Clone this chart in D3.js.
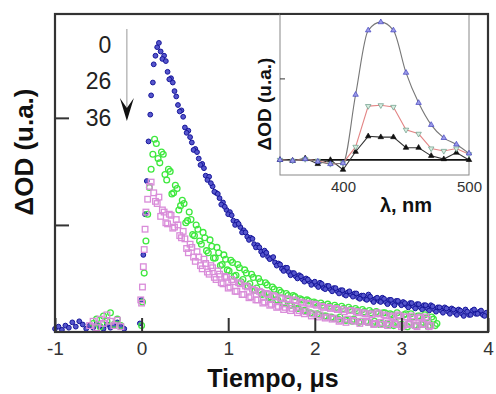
<!DOCTYPE html>
<html>
<head>
<meta charset="utf-8">
<script src="https://cdn.jsdelivr.net/npm/d3@7"></script>
<style>
  body { margin: 0; background: #fff; }
  svg { display: block; font-family: "Liberation Sans", Arial, sans-serif; }
</style>
</head>
<body>
<div class="canvas"></div>
<script>
// ---- kinetic traces: ΔOD vs time (μs) ----
// each trace = flat part before the pulse, the rise, and two interleaved decay scans
const sampleStep = 0.04;

const blueBaseStart = -1.0;
const blueBase = [0.03, 0.05, 0.02, 0.06, 0.04, 0.09, 0.05, 0.10, 0.07, 0.03, 0.06,
                  0.04, 0.08, 0.05, 0.03, 0.07, 0.04, 0.06, 0.09, 0.05, 0.03];
const blueRiseT = [-0.02, 0.00, 0.02, 0.04, 0.06, 0.08, 0.10, 0.11, 0.13, 0.14, 0.16, 0.18, 0.20];
const blueRiseV = [0.08, 0.30, 0.72, 1.10, 1.41, 1.78, 2.03, 2.21, 2.33, 2.50, 2.58, 2.66, 2.70];
const blueDecayStart = 0.22;
const blueDecay = [2.62, 2.58, 2.43, 2.37, 2.25, 2.12, 2.07, 1.91, 1.88, 1.77,
                   1.71, 1.62, 1.57, 1.46, 1.45, 1.36, 1.30, 1.25, 1.21, 1.14,
                   1.12, 1.04, 1.03, 0.98, 0.95, 0.89, 0.88, 0.82, 0.81, 0.75,
                   0.76, 0.70, 0.69, 0.65, 0.64, 0.59, 0.60, 0.56, 0.55, 0.52,
                   0.53, 0.49, 0.50, 0.47, 0.46, 0.44, 0.46, 0.41, 0.43, 0.40,
                   0.41, 0.38, 0.39, 0.35, 0.37, 0.35, 0.36, 0.32, 0.34, 0.31,
                   0.35, 0.30, 0.31, 0.29, 0.32, 0.28, 0.30, 0.27, 0.29, 0.27,
                   0.28, 0.25, 0.27, 0.24, 0.26, 0.23, 0.25, 0.22, 0.25, 0.21,
                   0.23, 0.20, 0.23, 0.19, 0.22, 0.18, 0.21, 0.17, 0.21, 0.16,
                   0.20, 0.17, 0.19, 0.16, 0.18];
const blueDecay2Start = 0.24;
const blueDecay2 = [2.55, 2.53, 2.36, 2.33, 2.20, 2.06, 2.01, 1.86, 1.82, 1.70,
                    1.68, 1.56, 1.53, 1.42, 1.39, 1.31, 1.29, 1.19, 1.17, 1.10,
                    1.09, 1.00, 1.01, 0.93, 0.93, 0.86, 0.87, 0.79, 0.79, 0.72,
                    0.74, 0.68, 0.70, 0.62, 0.63, 0.57, 0.60, 0.53, 0.55, 0.50,
                    0.52, 0.47, 0.49, 0.44, 0.47, 0.42, 0.45, 0.40, 0.43, 0.38,
                    0.41, 0.36, 0.39, 0.34, 0.38, 0.33, 0.36, 0.31, 0.34, 0.30,
                    0.33, 0.28, 0.32, 0.28, 0.31, 0.26, 0.30, 0.25, 0.29, 0.25,
                    0.27, 0.23, 0.27, 0.22, 0.26, 0.21, 0.25, 0.20, 0.24, 0.19,
                    0.23, 0.18, 0.22, 0.17, 0.21, 0.16, 0.20, 0.15, 0.19, 0.16,
                    0.21, 0.17, 0.20, 0.15];

const greenBaseStart = -0.56;
const greenBase = [0.08, 0.12, 0.05, 0.15, 0.10, 0.18, 0.07, 0.12, 0.06];
const greenRiseT = [0.00, 0.01, 0.03, 0.05, 0.07, 0.09, 0.11, 0.13, 0.15];
const greenRiseV = [0.06, 0.28, 0.55, 0.85, 1.10, 1.35, 1.52, 1.66, 1.80];
const greenDecayStart = 0.17;
const greenDecay = [1.76, 1.58, 1.66, 1.42, 1.50, 1.30, 1.34, 1.18, 1.20, 1.04,
                    1.05, 0.90, 0.96, 0.82, 0.88, 0.74, 0.80, 0.69, 0.74, 0.63,
                    0.68, 0.57, 0.65, 0.53, 0.60, 0.49, 0.55, 0.45, 0.51, 0.41,
                    0.47, 0.36, 0.44, 0.33, 0.40, 0.30, 0.37, 0.27, 0.34, 0.25,
                    0.33, 0.22, 0.30, 0.20, 0.29, 0.17, 0.27, 0.16, 0.25, 0.15,
                    0.24, 0.13, 0.23, 0.14, 0.22, 0.11, 0.21, 0.12, 0.20, 0.10,
                    0.19, 0.09, 0.18, 0.10, 0.17, 0.08, 0.18, 0.07, 0.16, 0.09,
                    0.15, 0.07, 0.17, 0.08, 0.14, 0.06, 0.15, 0.09, 0.13, 0.06,
                    0.12, 0.08];
const greenDecay2Start = 0.19;
const greenDecay2 = [1.62, 1.68, 1.47, 1.52, 1.29, 1.37, 1.14, 1.23, 1.02, 1.12,
                     0.91, 1.00, 0.85, 0.93, 0.76, 0.86, 0.69, 0.79, 0.62, 0.72,
                     0.58, 0.67, 0.52, 0.63, 0.47, 0.58, 0.43, 0.54, 0.39, 0.50,
                     0.35, 0.46, 0.32, 0.42, 0.30, 0.39, 0.27, 0.36, 0.25, 0.34,
                     0.22, 0.31, 0.20, 0.30, 0.18, 0.28, 0.17, 0.27, 0.15, 0.26,
                     0.14, 0.25, 0.12, 0.24, 0.11, 0.23, 0.10, 0.22, 0.09, 0.21,
                     0.10, 0.20, 0.08, 0.19, 0.07, 0.18, 0.08, 0.17, 0.06, 0.18,
                     0.07, 0.16, 0.05, 0.17, 0.06, 0.15, 0.07, 0.16, 0.05, 0.14,
                     0.06];

const pinkBaseStart = -0.60;
const pinkBase = [0.06, 0.10, 0.04, 0.12, 0.08, 0.16, 0.10, 0.06, 0.11, 0.05];
const pinkRiseT = [-0.01, 0.00, 0.01, 0.02, 0.03, 0.04, 0.05, 0.07, 0.09, 0.11];
const pinkRiseV = [0.30, 0.27, 0.42, 0.61, 0.77, 0.96, 1.12, 1.24, 1.36, 1.40];
const pinkDecayStart = 0.14;
const pinkDecay = [1.30, 1.20, 1.08, 1.12, 1.01, 1.09, 0.98, 1.00, 0.88, 0.87,
                   0.74, 0.79, 0.66, 0.70, 0.59, 0.64, 0.54, 0.60, 0.49, 0.54,
                   0.45, 0.51, 0.42, 0.47, 0.38, 0.45, 0.35, 0.42, 0.33, 0.39,
                   0.30, 0.37, 0.28, 0.35, 0.26, 0.33, 0.24, 0.31, 0.23, 0.30,
                   0.22, 0.29, 0.20, 0.27, 0.19, 0.26, 0.17, 0.25, 0.16, 0.23,
                   0.14, 0.22, 0.13, 0.21, 0.11, 0.19, 0.12, 0.20, 0.10, 0.18,
                   0.10, 0.17, 0.09, 0.16, 0.08, 0.17, 0.07, 0.15, 0.08, 0.14,
                   0.07, 0.15, 0.06, 0.14, 0.08, 0.13, 0.05, 0.14, 0.07, 0.12,
                   0.06];
const pinkDecay2Start = 0.16;
const pinkDecay2 = [1.22, 1.26, 1.14, 1.02, 1.10, 0.97, 1.05, 0.90, 0.94, 0.78,
                    0.82, 0.70, 0.75, 0.62, 0.68, 0.56, 0.62, 0.51, 0.57, 0.46,
                    0.52, 0.41, 0.49, 0.38, 0.46, 0.35, 0.43, 0.32, 0.40, 0.30,
                    0.38, 0.27, 0.36, 0.25, 0.34, 0.23, 0.32, 0.21, 0.31, 0.20,
                    0.30, 0.18, 0.28, 0.17, 0.27, 0.15, 0.26, 0.14, 0.24, 0.13,
                    0.23, 0.12, 0.22, 0.10, 0.21, 0.09, 0.20, 0.11, 0.19, 0.08,
                    0.18, 0.10, 0.17, 0.07, 0.18, 0.09, 0.16, 0.06, 0.15, 0.08,
                    0.16, 0.05, 0.14, 0.07, 0.15, 0.06, 0.13, 0.08, 0.14, 0.05];

const doseLabels = ["0", "26", "36"];
const xTicks = [-1, 0, 1, 2, 3, 4];
const yTicks = [1, 2];

// ---- inset: transient spectra, ΔOD vs λ (nm) ----
const insetWl = [350, 360, 370, 380, 390, 400, 410, 420, 430, 440, 450, 460, 470, 480, 490, 500];
const spec0  = [0.00, -0.01, 0.01, -0.02, -0.05, -0.04, 0.80, 1.59, 1.69, 1.59, 1.07, 0.70, 0.43, 0.27, 0.19, 0.08];
const spec26 = [0.00, -0.01, 0.01, -0.01, -0.05, -0.04, 0.16, 0.66, 0.67, 0.65, 0.37, 0.32, 0.14, 0.11, 0.14, 0.07];
const spec36 = [0.00, -0.01, 0.02, -0.05, 0.00, -0.12, 0.10, 0.29, 0.28, 0.28, 0.15, 0.15, 0.05, 0.01, 0.09, 0.00];
const insetXTicks = [400, 500];
const insetYTicks = [1];

const grid = (t0, vals) => vals.map((v, i) => ({t: t0 + i * sampleStep, v: v}));
const pairs = (ts, vs) => ts.map((t, i) => ({t: t, v: vs[i]}));

const blue = grid(blueBaseStart, blueBase).concat(pairs(blueRiseT, blueRiseV),
  grid(blueDecayStart, blueDecay), grid(blueDecay2Start, blueDecay2));
const green = grid(greenBaseStart, greenBase).concat(pairs(greenRiseT, greenRiseV),
  grid(greenDecayStart, greenDecay), grid(greenDecay2Start, greenDecay2));
const pink = grid(pinkBaseStart, pinkBase).concat(pairs(pinkRiseT, pinkRiseV),
  grid(pinkDecayStart, pinkDecay), grid(pinkDecay2Start, pinkDecay2));

const W = 496, H = 394;
const svg = d3.select('.canvas')
  .append('svg')
    .attr('width', W)
    .attr('height', H)
    .style('background-color', 'white');

const x = d3.scaleLinear().domain([-1, 4]).range([55, 488]);
const y = d3.scaleLinear().domain([0, 2.97]).range([332, 14]);

// blue: filled circles
svg.append('g').selectAll('circle')
  .data(blue)
  .enter()
  .append('circle')
    .attr('cx', d => x(d.t))
    .attr('cy', d => y(d.v))
    .attr('r', 2.4)
    .attr('fill', '#5656cc')
    .attr('stroke', '#15159a')
    .attr('stroke-width', 1);

// green: open circles
svg.append('g').selectAll('circle')
  .data(green)
  .enter()
  .append('circle')
    .attr('cx', d => x(d.t))
    .attr('cy', d => y(d.v))
    .attr('r', 2.9)
    .attr('fill', 'none')
    .attr('stroke', '#3ee83e')
    .attr('stroke-width', 1.3);

// pink: open squares
svg.append('g').selectAll('rect')
  .data(pink)
  .enter()
  .append('rect')
    .attr('x', d => x(d.t) - 2.8)
    .attr('y', d => y(d.v) - 2.8)
    .attr('width', 5.6)
    .attr('height', 5.6)
    .attr('fill', 'none')
    .attr('stroke', '#d98cd9')
    .attr('stroke-width', 1.3);

// axes with inward ticks
const xAxis = svg.append('g')
  .attr('transform', `translate(0,${y(0)})`)
  .call(d3.axisBottom(x).tickValues(xTicks).tickSizeInner(-14).tickSizeOuter(0).tickPadding(10)
    .tickFormat(d3.format('d')));
xAxis.select('.domain').remove();
xAxis.selectAll('line').attr('stroke', '#333').attr('stroke-width', 2);
xAxis.selectAll('text')
  .style('font-family', '"Liberation Sans", Arial, sans-serif')
  .style('font-size', '19px')
  .attr('fill', '#333')
  .text(d => d < 0 ? '-' + Math.abs(d) : d);

const yAxis = svg.append('g')
  .attr('transform', `translate(${x(-1)},0)`)
  .call(d3.axisLeft(y).tickValues(yTicks).tickSizeInner(-14).tickSizeOuter(0).tickFormat(''));
yAxis.select('.domain').remove();
yAxis.selectAll('line').attr('stroke', '#333').attr('stroke-width', 2);

// frame
svg.append('rect')
  .attr('x', x(-1))
  .attr('y', y(2.97))
  .attr('width', x(4) - x(-1))
  .attr('height', y(0) - y(2.97))
  .attr('fill', 'none')
  .attr('stroke', '#333')
  .attr('stroke-width', 2.2);

// axis titles
svg.append('text')
  .attr('text-anchor', 'middle')
  .attr('x', 273)
  .attr('y', 387)
  .style('font-weight', 'bold')
  .style('font-size', '25px')
  .attr('fill', '#111')
  .text('Tiempo, μs');

svg.append('text')
  .attr('text-anchor', 'middle')
  .attr('transform', 'translate(33,152) rotate(-90)')
  .style('font-weight', 'bold')
  .style('font-size', '26px')
  .attr('fill', '#111')
  .text('ΔOD (u.a.)');

// dose labels + arrow
svg.append('g').selectAll('text')
  .data(doseLabels)
  .enter()
  .append('text')
    .attr('text-anchor', 'end')
    .attr('x', x(-0.35))
    .attr('y', (d, i) => y(2.61 - i * 0.345))
    .style('font-size', '23px')
    .attr('fill', '#222')
    .text(d => d);

const ax = x(-0.17);
svg.append('line')
  .attr('x1', ax).attr('x2', ax)
  .attr('y1', y(2.83)).attr('y2', y(2.0))
  .attr('stroke', '#999')
  .attr('stroke-width', 1);
const tipY = y(1.97);
svg.append('path')
  .attr('d', `M${ax},${tipY} L${ax - 7},${tipY - 23} L${ax},${tipY - 13} L${ax + 7},${tipY - 23} Z`)
  .attr('fill', '#111');

// ---- inset ----
const ix = d3.scaleLinear().domain([350, 500]).range([280, 469]);
const iy = d3.scaleLinear().domain([-0.185, 1.79]).range([175, 14]);

svg.append('rect')
  .attr('x', ix(350)).attr('y', iy(1.79))
  .attr('width', ix(500) - ix(350))
  .attr('height', iy(-0.185) - iy(1.79))
  .attr('fill', 'white')
  .attr('stroke', '#888')
  .attr('stroke-width', 1);
// redraw the main top edge over the inset box
svg.append('line')
  .attr('x1', ix(350)).attr('x2', ix(500) + 2)
  .attr('y1', y(2.97)).attr('y2', y(2.97))
  .attr('stroke', '#333').attr('stroke-width', 2.2);

svg.append('line')
  .attr('x1', ix(350)).attr('x2', ix(500))
  .attr('y1', iy(0)).attr('y2', iy(0))
  .attr('stroke', '#111').attr('stroke-width', 1.6);

const ixAxis = svg.append('g')
  .attr('transform', `translate(0,${iy(-0.185)})`)
  .call(d3.axisBottom(ix).tickValues(insetXTicks).tickSize(0).tickPadding(6));
ixAxis.select('.domain').remove();
ixAxis.selectAll('text')
  .style('font-family', '"Liberation Sans Narrow", "Liberation Sans", Arial, sans-serif')
  .style('font-size', '15px')
  .attr('fill', '#333');

const iyAxis = svg.append('g')
  .attr('transform', `translate(${ix(350)},0)`)
  .call(d3.axisLeft(iy).tickValues(insetYTicks).tickSizeInner(-5).tickSizeOuter(0).tickFormat(''));
iyAxis.select('.domain').remove();
iyAxis.selectAll('line').attr('stroke', '#333');

svg.append('text')
  .attr('text-anchor', 'middle')
  .attr('x', 406)
  .attr('y', 212)
  .style('font-weight', 'bold')
  .style('font-size', '20px')
  .attr('fill', '#111')
  .text('λ, nm');

svg.append('text')
  .attr('text-anchor', 'middle')
  .attr('transform', 'translate(271,104) rotate(-90)')
  .style('font-weight', 'bold')
  .style('font-size', '19px')
  .attr('fill', '#111')
  .text('ΔOD (u.a.)');

const spectra = [
  {vals: spec0,  line: '#777',    curve: d3.curveMonotoneX, sym: 'up',   fill: '#9a9ae8', stroke: '#4444c0'},
  {vals: spec26, line: '#e38585', curve: d3.curveLinear,    sym: 'down', fill: '#d6eee0', stroke: '#6a9a86'},
  {vals: spec36, line: '#333',    curve: d3.curveLinear,    sym: 'up',   fill: '#111',    stroke: '#111'}
];

spectra.slice().reverse().forEach(s => {
  const pts = insetWl.map((w, i) => ({w: w, v: s.vals[i]}));
  svg.append('path')
    .datum(pts)
    .attr('fill', 'none')
    .attr('stroke', s.line)
    .attr('stroke-width', 1.1)
    .attr('d', d3.line().x(d => ix(d.w)).y(d => iy(d.v)).curve(s.curve));
  svg.append('g').selectAll('path')
    .data(pts)
    .enter()
    .append('path')
      .attr('d', d3.symbol().type(d3.symbolTriangle).size(13))
      .attr('transform', d => `translate(${ix(d.w)},${iy(d.v)})` + (s.sym === 'down' ? ' rotate(180)' : ''))
      .attr('fill', s.fill)
      .attr('stroke', s.stroke)
      .attr('stroke-width', 0.7);
});
</script>
</body>
</html>
